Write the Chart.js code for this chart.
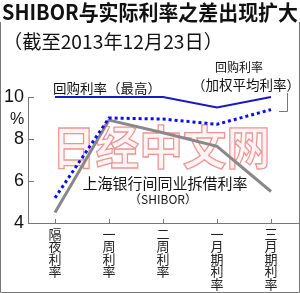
<!DOCTYPE html>
<html>
<head>
<meta charset="utf-8">
<script src="https://cdn.jsdelivr.net/npm/chart.js@4.4.1/dist/chart.umd.min.js"></script>
<style>
html,body{margin:0;padding:0;background:#fff;}
canvas{display:block;}
</style>
</head>
<body>
<canvas id="c" width="300" height="293"></canvas>
<script>
const categoryNames = ['隔夜利率', '一周利率', '二周利率', '一月期利率', '三月期利率'];
const shibor = [4.5, 8.9, 8.3, 7.65, 5.5];
const repoMax = [10, 10, 10, 9.5, 10];
const repoWeighted = [5.2, 9.0, 8.95, 8.7, 9.4];
const yTicks = [4, 6, 8, 10];

const titleText = 'SHIBOR与实际利率之差出现扩大';
const subtitleText = '（截至2013年12月23日）';
const labelRepoMax = '回购利率（最高）';
const labelRepoW1 = '回购利率';
const labelRepoW2 = '（加权平均利率）';
const labelShibor1 = '上海银行间同业拆借利率';
const labelShibor2 = '（SHIBOR）';
const unitLabel = '%';
const watermark = '日经中文网';

const CJK = '"Noto Sans CJK JP","Noto Sans CJK SC",sans-serif';

function drawFit(ctx, text, x, y, w, align) {
  const m = ctx.measureText(text).width;
  const sx = w / m;
  ctx.save();
  ctx.translate(x, y);
  ctx.scale(sx, 1);
  ctx.textAlign = align;
  ctx.fillText(text, 0, 0);
  ctx.restore();
}

const annot = {
  id: 'annot',
  beforeDraw(chart) {
    const ctx = chart.ctx;
    ctx.save();
    ctx.fillStyle = '#fff';
    ctx.fillRect(0, 0, chart.width, chart.height);
    ctx.restore();
  },
  beforeDatasetsDraw(chart) {
    const ctx = chart.ctx;
    ctx.save();
    ctx.font = 'bold 46px ' + CJK;
    ctx.textBaseline = 'middle';
    const m = ctx.measureText(watermark).width;
    ctx.translate(161, 147);
    ctx.scale(218 / m, 1);
    ctx.textAlign = 'center';
    ctx.fillStyle = 'rgba(255,236,236,0.6)';
    ctx.fillText(watermark, 0, 0);
    ctx.strokeStyle = 'rgba(236,120,120,0.8)';
    ctx.lineWidth = 1.3;
    ctx.strokeText(watermark, 0, 0);
    ctx.restore();
  },
  afterDraw(chart) {
    const ctx = chart.ctx;
    const xs = chart.scales.x, ys = chart.scales.y;
    const ca = chart.chartArea;
    ctx.save();
    // inner ticks
    ctx.strokeStyle = '#777';
    ctx.lineWidth = 1;
    ctx.beginPath();
    yTicks.forEach(v => {
      const y = Math.round(ys.getPixelForValue(v)) + 0.5;
      ctx.moveTo(ca.left, y); ctx.lineTo(ca.left + 6, y);
    });
    categoryNames.forEach((c, i) => {
      const x = Math.round(xs.getPixelForValue(i)) + 0.5;
      ctx.moveTo(x, ca.bottom); ctx.lineTo(x, ca.bottom - 4);
    });
    ctx.stroke();
    // frame
    ctx.strokeStyle = '#777';
    ctx.beginPath();
    ctx.moveTo(0.5, 22); ctx.lineTo(0.5, 292.5); ctx.lineTo(299.5, 292.5); ctx.lineTo(299.5, 22);
    ctx.stroke();
    // bracket leader
    ctx.beginPath();
    ctx.moveTo(287.5, 93); ctx.lineTo(287.5, 111.5); ctx.lineTo(279, 111.5);
    ctx.stroke();

    ctx.fillStyle = '#111';
    ctx.textBaseline = 'middle';
    // title
    ctx.font = 'bold 21px ' + CJK;
    drawFit(ctx, titleText, 2, 12.5, 296, 'left');
    ctx.font = '19px ' + CJK;
    drawFit(ctx, subtitleText, 3, 42, 220, 'left');
    // labels
    ctx.font = '13px ' + CJK;
    drawFit(ctx, labelRepoMax, 53, 88, 108, 'left');
    ctx.font = '12px ' + CJK;
    ctx.textAlign = 'center';
    ctx.fillText(labelRepoW1, 239, 67);
    ctx.font = '13.5px ' + CJK;
    ctx.fillText(labelRepoW2, 246, 85);
    ctx.font = '15px ' + CJK;
    ctx.fillText(labelShibor1, 165, 183.5);
    ctx.font = '12px ' + CJK;
    ctx.fillText(labelShibor2, 163, 199);
    // unit
    ctx.font = '16px "Liberation Sans Narrow","Liberation Sans",sans-serif';
    ctx.fillText(unitLabel, 17, 119.5);
    ctx.restore();
  }
};

new Chart(document.getElementById('c'), {
  type: 'line',
  data: {
    labels: categoryNames.map(s => s.split('')),
    datasets: [
      {
        label: labelRepoW2,
        data: repoWeighted,
        borderColor: '#0a0aff',
        borderWidth: 3,
        borderDash: [3, 3],
        pointRadius: 0,
        tension: 0,
        clip: false
      },
      {
        label: labelRepoMax,
        data: repoMax,
        borderColor: '#1818c4',
        borderWidth: 2,
        pointRadius: 0,
        tension: 0,
        clip: false
      },
      {
        label: labelShibor1,
        data: shibor,
        borderColor: '#888888',
        borderWidth: 3,
        pointRadius: 0,
        tension: 0,
        clip: false
      }
    ]
  },
  options: {
    responsive: false,
    animation: false,
    events: [],
    layout: { padding: { top: 97, right: 2, left: 0, bottom: 0 } },
    plugins: { legend: { display: false }, tooltip: { enabled: false }, title: { display: false } },
    scales: {
      x: {
        offset: true,
        grid: { display: false, drawTicks: false },
        border: { display: true, color: '#777', width: 1 },
        ticks: {
          padding: 5,
          maxRotation: 0,
          minRotation: 0,
          autoSkip: false,
          color: '#222',
          font: { family: CJK, size: 13, lineHeight: 0.95 }
        },
        afterFit(s) { s.height = 70; }
      },
      y: {
        min: 4,
        max: 10,
        grid: { display: false, drawTicks: false },
        border: { display: true, color: '#777', width: 1 },
        afterBuildTicks(s) { s.ticks = yTicks.map(v => ({ value: v })); },
        ticks: {
          padding: 4,
          color: '#111',
          font: { family: '"Liberation Sans Narrow","Liberation Sans",sans-serif', size: 18 }
        },
        afterFit(s) { s.width = 28; }
      }
    }
  },
  plugins: [annot]
});
</script>
</body>
</html>
